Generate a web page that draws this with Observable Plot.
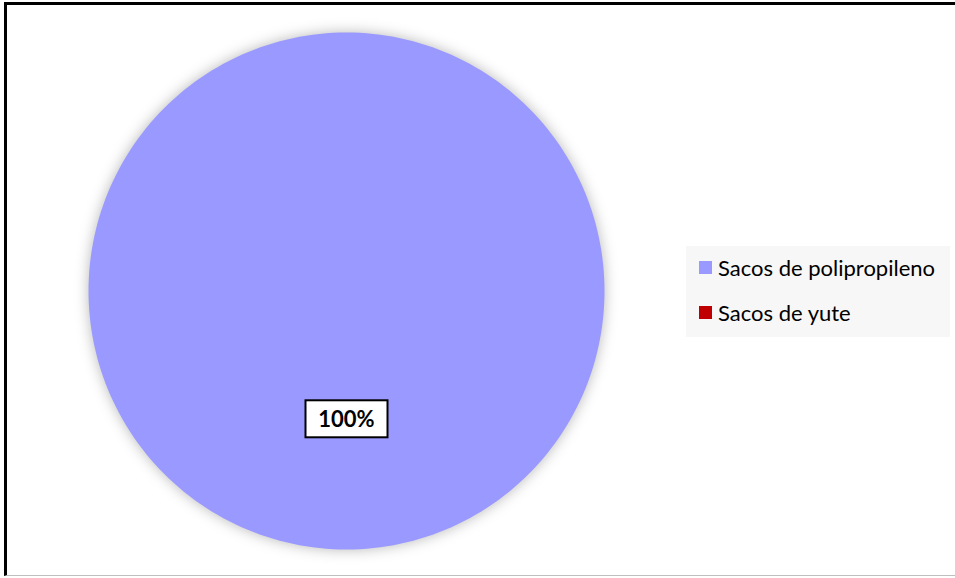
<!DOCTYPE html>
<html>
<head>
<meta charset="utf-8">
<script src="https://cdn.jsdelivr.net/npm/d3@7"></script>
<script src="https://cdn.jsdelivr.net/npm/@observablehq/plot@0.6"></script>
<style>
  html, body { margin: 0; padding: 0; background: #fff; }
  #wrap { position: relative; width: 955px; height: 578px; overflow: hidden; font-family: Lato, "Open Sans", sans-serif; }
  #frame { position: absolute; left: 4px; top: 2px; width: 960px; height: 570px; border-top: 3px solid #000; border-left: 3px solid #000; border-bottom: 1px solid #bfbfbf; box-sizing: content-box; }
  #chart { position: absolute; left: 0; top: 0; }
  #legend { position: absolute; left: 686px; top: 246px; width: 264px; height: 91px; background: #f7f7f7; }
  .item { position: absolute; left: 13px; display: flex; align-items: center; font-size: 22px; color: #000; white-space: nowrap; }
  .sw { width: 13px; height: 13px; margin-right: 6px; }
</style>
</head>
<body>
<div id="wrap">
  <div id="frame"></div>
  <div id="chart"></div>
  <div id="legend"></div>
</div>
<script>
const categories = ["Sacos de polipropileno", "Sacos de yute"];
const values = [100, 0];
const labels = ["100%", ""];
const colors = ["#9999ff", "#c00000"];

const pie = d3.pie().sort(null).value(d => d.value)(categories.map((c, i) => ({category: c, value: values[i], label: labels[i]})));

// polygon outline of each slice from the pie angles
const polys = [];
pie.forEach(s => {
  if (s.endAngle - s.startAngle <= 0) return;
  const n = 240;
  polys.push({category: s.data.category, x: 0, y: 0});
  for (let k = 0; k <= n; k++) {
    const a = s.startAngle + (s.endAngle - s.startAngle) * k / n;
    polys.push({category: s.data.category, x: Math.sin(a), y: Math.cos(a)});
  }
});
const labelPts = pie.filter(s => s.value > 0).map(s => {
  const m = (s.startAngle + s.endAngle) / 2;
  return {x: 0.5 * Math.sin(m), y: 0.5 * Math.cos(m), label: s.data.label};
});

const W = 955, H = 578;
const chart = Plot.plot({
  width: W, height: H,
  marginLeft: 88, marginRight: W - 604, marginTop: 32, marginBottom: H - 549,
  x: {domain: [-1, 1], axis: null},
  y: {domain: [-1, 1], axis: null},
  color: {domain: categories, range: colors},
  style: {background: "transparent", overflow: "visible"},
  marks: [
    Plot.line(polys, {x: "x", y: "y", z: "category", fill: "category", stroke: "none", curve: "linear-closed", className: "slices"}),
    Plot.text(labelPts, {x: "x", y: "y", text: "label", fontSize: 22, fontWeight: "bold", fill: "#000", className: "plabels"})
  ]
});
document.getElementById("chart").appendChild(chart);

const st = document.createElement("style");
st.textContent = `.slices { filter: drop-shadow(0 0 7px rgba(0,0,0,0.28)); } .plabels text { font-family: Lato, "Open Sans", sans-serif; }`;
document.head.appendChild(st);

// label boxes
chart.querySelectorAll(".plabels text").forEach(t => {
  const b = t.getBBox();
  const r = document.createElementNS("http://www.w3.org/2000/svg", "rect");
  const bw = 82, bh = 37;
  const cx = b.x + b.width / 2, cy = b.y + b.height / 2;
  r.setAttribute("x", cx - bw / 2);
  r.setAttribute("y", cy - bh / 2);
  r.setAttribute("width", bw);
  r.setAttribute("height", bh);
  r.setAttribute("fill", "#fff");
  r.setAttribute("stroke", "#000");
  r.setAttribute("stroke-width", 2);
  const tr = t.getAttribute("transform");
  if (tr) r.setAttribute("transform", tr);
  t.parentNode.insertBefore(r, t);
});

// legend
const leg = document.getElementById("legend");
categories.forEach((c, i) => {
  const d = document.createElement("div");
  d.className = "item";
  d.style.top = (i === 0 ? 8 : 53) + "px";
  d.innerHTML = `<span class="sw" style="background:${colors[i]}"></span><span>${c}</span>`;
  leg.appendChild(d);
});
</script>
</body>
</html>
